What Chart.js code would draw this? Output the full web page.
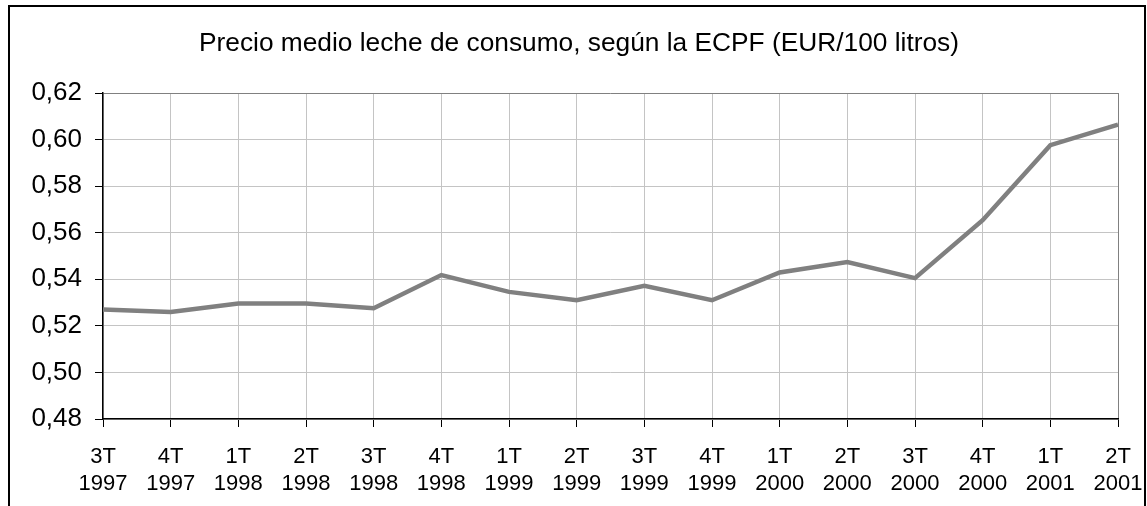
<!DOCTYPE html>
<html>
<head>
<meta charset="utf-8">
<script src="https://cdn.jsdelivr.net/npm/chart.js@4"></script>
<style>
  html, body { margin:0; padding:0; background:#fff; }
  #wrap { position:relative; width:1147px; height:506px; overflow:hidden; }
  #frame { position:absolute; left:8px; top:5px; width:1134px; height:600px; border:2px solid #000; pointer-events:none; }
  canvas { position:absolute; left:0; top:0; }
</style>
</head>
<body>
<div id="wrap">
  <canvas id="c" width="1147" height="506"></canvas>
  <div id="frame"></div>
</div>
<script>
const titleText = "Precio medio leche de consumo, según la ECPF (EUR/100 litros)";
const quarters = ["3T","4T","1T","2T","3T","4T","1T","2T","3T","4T","1T","2T","3T","4T","1T","2T"];
const years = ["1997","1997","1998","1998","1998","1998","1999","1999","1999","1999","2000","2000","2000","2000","2001","2001"];
const prices = [0.527, 0.526, 0.5296, 0.5296, 0.5276, 0.5418, 0.5346, 0.531, 0.5372, 0.531, 0.5429, 0.5474, 0.5405, 0.5654, 0.5976, 0.6064];
const yMin = 0.48, yMax = 0.62, yStep = 0.02;

const labels = quarters.map((q, i) => [q, years[i]]);
const FONT = "'Liberation Sans', Arial, sans-serif";

const titlePlugin = {
  id: 'customTitle',
  afterDraw(chart) {
    const ctx = chart.ctx;
    ctx.save();
    ctx.font = "26.3px " + FONT;
    ctx.fillStyle = "#000";
    ctx.textAlign = "center";
    ctx.textBaseline = "alphabetic";
    ctx.fillText(titleText, 579, 51);
    ctx.restore();
  }
};

new Chart(document.getElementById('c'), {
  type: 'line',
  data: {
    labels: labels,
    datasets: [{
      data: prices,
      borderColor: '#808080',
      borderWidth: 4.5,
      pointRadius: 0,
      tension: 0,
      fill: false
    }]
  },
  options: {
    responsive: false,
    animation: false,
    devicePixelRatio: 1,
    layout: { padding: { top: 93, right: 0, left: 0, bottom: 0 } },
    plugins: { legend: { display: false }, title: { display: false }, tooltip: { enabled: false } },
    scales: {
      x: {
        offset: false,
        afterFit(s) { s.height = 87; s.paddingLeft = 0; s.paddingRight = 29; },
        grid: {
          color: (c) => c.index === quarters.length - 1 ? '#808080' : '#c4c4c4',
          lineWidth: 1,
          tickLength: 8,
          tickColor: '#000',
          drawTicks: true
        },
        border: { color: '#000', width: 1.5 },
        ticks: {
          autoSkip: false,
          maxRotation: 0,
          minRotation: 0,
          padding: 17,
          color: '#000',
          font: { family: FONT, size: 22, lineHeight: 1.22 }
        }
      },
      y: {
        min: yMin,
        max: yMax,
        afterFit(s) { s.width = 103; },
        grid: {
          color: (c) => (c.tick && Math.abs(c.tick.value - yMax) < 1e-9) ? '#808080' : '#c4c4c4',
          lineWidth: 1,
          tickLength: 8,
          tickColor: '#000'
        },
        border: { color: '#000', width: 1.5 },
        ticks: {
          stepSize: yStep,
          padding: 13,
          color: '#000',
          font: { family: FONT, size: 26 },
          callback: (v) => Number(v).toFixed(2).replace('.', ',')
        }
      }
    }
  },
  plugins: [titlePlugin]
});
</script>
</body>
</html>
